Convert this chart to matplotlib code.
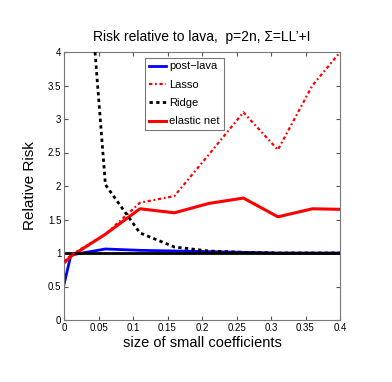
import matplotlib
matplotlib.use("Agg")
import matplotlib.pyplot as plt
import numpy as np

plt.rcParams['font.family'] = ['Liberation Sans', 'DejaVu Sans']

x = [0, 0.01, 0.06, 0.11, 0.16, 0.21, 0.26, 0.31, 0.36, 0.41]
post_lava = [0.53, 0.97, 1.06, 1.04, 1.03, 1.02, 1.01, 1.0, 1.0, 1.0]
lasso = [0.87, 0.97, 1.28, 1.75, 1.85, 2.47, 3.10, 2.54, 3.50, 4.12]
ridge = [10.0, 8.6, 2.02, 1.30, 1.09, 1.03, 1.01, 1.0, 1.0, 1.0]
elastic = [0.85, 0.95, 1.28, 1.66, 1.60, 1.74, 1.82, 1.54, 1.66, 1.65]
lava_ref = [1.0] * len(x)

xticks = [0, 0.05, 0.1, 0.15, 0.2, 0.25, 0.3, 0.35, 0.4]
xticklabels = ['0', '0.05', '0.1', '0.15', '0.2', '0.25', '0.3', '0.35', '0.4']
yticks = [0, 0.5, 1, 1.5, 2, 2.5, 3, 3.5, 4]
yticklabels = ['0', '0.5', '1', '1.5', '2', '2.5', '3', '3.5', '4']

fig = plt.figure(figsize=(3.92, 3.82), dpi=100)
ax = fig.add_axes([64/392, 62/382, 276/392, 268/382])

ax.plot(x, post_lava, color='blue', lw=2.0, label='post\u2212lava', zorder=2)
ax.plot(x, lava_ref, color='black', lw=2.0, zorder=2.5)
ax.plot(x, lasso, color='red', lw=1.6, ls=(0, (1.5, 1.2, 0.8, 1.2)), label='Lasso', zorder=3)
ax.plot(x, ridge, color='black', lw=2.0, ls=(0, (1.2, 1.2)), label='Ridge', zorder=3)
ax.plot(x, elastic, color='red', lw=2.2, label='elastic net', zorder=2)

ax.set_xlim(0, 0.4)
ax.set_ylim(0, 4)
ax.set_xticks(xticks)
ax.set_xticklabels(xticklabels)
ax.set_yticks(yticks)
ax.set_yticklabels(yticklabels)
ax.tick_params(direction='in', top=True, right=True, labelsize=7, length=3, color='#555555', pad=2)
for s in ax.spines.values():
    s.set_color('#777777')
    s.set_linewidth(0.8)

ax.set_title("Risk relative to lava,  p=2n, \u03a3=LL\u2019+I", fontsize=10, pad=8)
ax.set_xlabel('size of small coefficients', fontsize=10.5, labelpad=2)
ax.set_ylabel('Relative Risk', fontsize=11, labelpad=8)

leg = ax.legend(loc='upper left', bbox_to_anchor=(0.275, 1.0), fontsize=8,
                handlelength=1.5, handletextpad=0.3, borderpad=0.35, labelspacing=0.75,
                fancybox=False, edgecolor='#777777', framealpha=1)
leg.get_frame().set_linewidth(0.8)

fig.savefig('out.png', dpi=100)
